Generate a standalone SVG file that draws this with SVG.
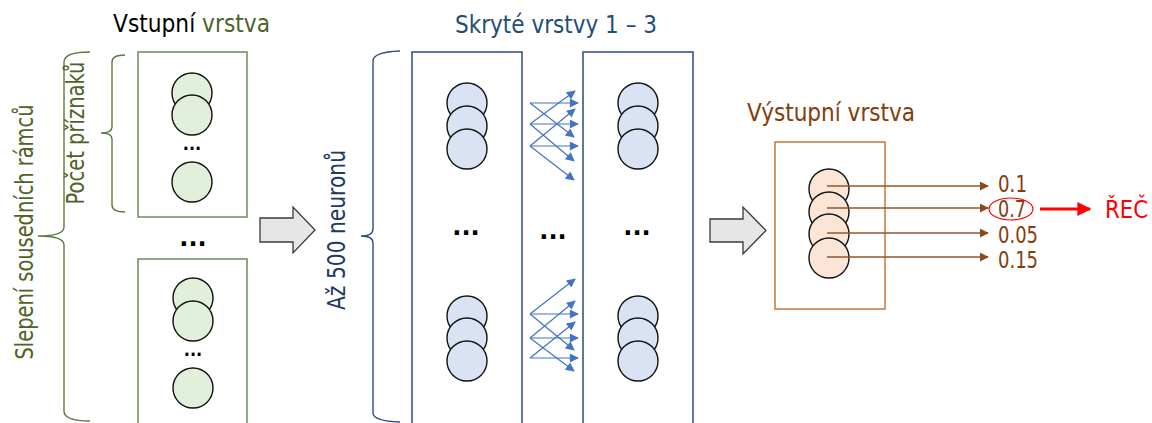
<svg xmlns="http://www.w3.org/2000/svg" width="1152" height="423" viewBox="0 0 1152 423">
<defs>
<style>
text{font-family:"DejaVu Sans Condensed","DejaVu Sans",sans-serif;}
.t{font-size:24px;}
.gin{fill:#e2efda;stroke:#111;stroke-width:1.4;}
.hid{fill:#dae3f3;stroke:#111;stroke-width:1.4;}
.out{fill:#fbe5d6;stroke:#111;stroke-width:1.4;}
.ibox{fill:#fff;stroke:#6d8c55;stroke-width:1.5;}
.hbox{fill:#fff;stroke:#2f4a82;stroke-width:1.5;}
.obox{fill:#fff;stroke:#c8773a;stroke-width:1.5;}
.gbrace{fill:none;stroke:#5b7a3c;stroke-width:1.4;}
.hbrace{fill:none;stroke:#2f4a82;stroke-width:1.4;}
.conn{stroke:#4472c4;stroke-width:1.2;fill:none;marker-end:url(#ab);}
.ol{stroke:#93562a;stroke-width:1.3;fill:none;marker-end:url(#abr);}
.blk{fill:#e7e6e6;stroke:#3a3a3a;stroke-width:1.3;}
.bd{font-size:24px;font-weight:bold;fill:#000;font-family:"DejaVu Sans",sans-serif;}
.sd{font-size:18px;font-weight:bold;fill:#000;}
.num{font-size:23px;fill:#843c0c;}
</style>
<marker id="ab" viewBox="0 0 10 10" refX="9" refY="5" markerWidth="10" markerHeight="9" markerUnits="userSpaceOnUse" orient="auto"><path d="M0,0 L10,5 L0,10 z" fill="#4472c4"/></marker>
<marker id="abr" viewBox="0 0 10 10" refX="9" refY="5" markerWidth="9" markerHeight="9" markerUnits="userSpaceOnUse" orient="auto"><path d="M0,0 L10,5 L0,10 z" fill="#8b4a1c"/></marker>
<marker id="ared" viewBox="0 0 10 10" refX="9" refY="5" markerWidth="17" markerHeight="14" markerUnits="userSpaceOnUse" orient="auto"><path d="M0,0 L10,5 L0,10 z" fill="#ff0000"/></marker>
</defs>
<rect width="1152" height="423" fill="#fff"/>

<g id="titles">
<text class="t" x="113" y="32" textLength="157" lengthAdjust="spacingAndGlyphs"><tspan fill="#000">Vstupní </tspan><tspan fill="#4f6228">vrstva</tspan></text>
<text class="t" x="455" y="33" textLength="202" lengthAdjust="spacingAndGlyphs" fill="#1f4e79">Skryté vrstvy 1 – 3</text>
<text class="t" x="747" y="121" textLength="168" lengthAdjust="spacingAndGlyphs" fill="#843c0c">Výstupní vrstva</text>
</g>

<g id="input-braces">
<path class="gbrace" d="M90,52 Q64,52 64,62 L64,227 Q64,236 38,236 Q64,236 64,245 L64,411 Q64,421 90,421"/>
<path class="gbrace" d="M125,55 Q112,55 112,62 L112,127 Q112,133 101,133 Q112,133 112,139 L112,205 Q112,212 125,212"/>
<text class="t" transform="translate(33,232) rotate(-90)" text-anchor="middle" textLength="255" lengthAdjust="spacingAndGlyphs" fill="#4f6228">Slepení sousedních rámců</text>
<text class="t" transform="translate(84,133) rotate(-90)" text-anchor="middle" textLength="143" lengthAdjust="spacingAndGlyphs" fill="#4f6228">Počet příznaků</text>
</g>

<g id="input-frame-1">
<rect class="ibox" x="138" y="52" width="109" height="165"/>
<circle class="gin" cx="192" cy="93" r="20"/>
<circle class="gin" cx="192" cy="115" r="20"/>
<text class="sd" x="192" y="150" text-anchor="middle">...</text>
<circle class="gin" cx="192" cy="182" r="20"/>
</g>
<text class="bd" x="193" y="246" text-anchor="middle">...</text>
<g id="input-frame-2">
<rect class="ibox" x="138" y="259" width="109" height="170"/>
<circle class="gin" cx="193" cy="298" r="20"/>
<circle class="gin" cx="193" cy="321" r="20"/>
<text class="sd" x="193" y="356" text-anchor="middle">...</text>
<circle class="gin" cx="193" cy="388" r="20"/>
</g>

<g id="arrow-1">
<path class="blk" d="M260,218 L293,218 L293,207 L315,230 L293,253 L293,242 L260,242 z"/>
</g>

<g id="hidden-brace">
<path class="hbrace" d="M400,51 Q373,52 373,61 L373,229 Q373,236 361,236 Q373,236 373,243 L373,413 Q373,421 400,422"/>
<text class="t" transform="translate(345,230) rotate(-90)" text-anchor="middle" textLength="160" lengthAdjust="spacingAndGlyphs" fill="#203864">Až 500 neuronů</text>
</g>

<g id="hidden-layer-1">
<rect class="hbox" x="412" y="52" width="110" height="380"/>
<circle class="hid" cx="467" cy="103" r="20"/>
<circle class="hid" cx="467" cy="126" r="20"/>
<circle class="hid" cx="467" cy="149" r="20"/>
<text class="bd" x="466" y="235" text-anchor="middle">...</text>
<circle class="hid" cx="467" cy="316" r="20"/>
<circle class="hid" cx="467" cy="338" r="20"/>
<circle class="hid" cx="467" cy="361" r="20"/>
</g>

<text class="bd" x="553" y="239" text-anchor="middle">...</text>

<g id="hidden-layer-2">
<rect class="hbox" x="583" y="52" width="110" height="380"/>
<circle class="hid" cx="638" cy="103" r="20"/>
<circle class="hid" cx="638" cy="126" r="20"/>
<circle class="hid" cx="638" cy="149" r="20"/>
<text class="bd" x="637" y="235" text-anchor="middle">...</text>
<circle class="hid" cx="638" cy="316" r="20"/>
<circle class="hid" cx="638" cy="338" r="20"/>
<circle class="hid" cx="638" cy="361" r="20"/>
</g>

<g id="connectors">
<line class="conn" x1="530" y1="103" x2="578" y2="103"/>
<line class="conn" x1="530" y1="103" x2="574" y2="137"/>
<line class="conn" x1="530" y1="124" x2="578" y2="124"/>
<line class="conn" x1="530" y1="124" x2="575" y2="91"/>
<line class="conn" x1="530" y1="124" x2="574" y2="161"/>
<line class="conn" x1="530" y1="146" x2="578" y2="146"/>
<line class="conn" x1="530" y1="146" x2="575" y2="109"/>
<line class="conn" x1="530" y1="146" x2="574" y2="180"/>

<line class="conn" x1="530" y1="314" x2="578" y2="314"/>
<line class="conn" x1="530" y1="314" x2="575" y2="279"/>
<line class="conn" x1="530" y1="314" x2="574" y2="350"/>
<line class="conn" x1="530" y1="338" x2="578" y2="338"/>
<line class="conn" x1="530" y1="338" x2="575" y2="301"/>
<line class="conn" x1="530" y1="338" x2="574" y2="371"/>
<line class="conn" x1="530" y1="358" x2="578" y2="358"/>
<line class="conn" x1="530" y1="358" x2="575" y2="322"/>
</g>

<g id="arrow-2">
<path class="blk" d="M710,219 L743,219 L743,207 L766,230.5 L743,254 L743,242 L710,242 z"/>
</g>

<g id="output-layer">
<rect class="obox" x="775" y="142" width="110" height="167"/>
<circle class="out" cx="829" cy="189" r="20"/>
<circle class="out" cx="829" cy="212" r="20"/>
<circle class="out" cx="829" cy="234" r="20"/>
<circle class="out" cx="829" cy="258" r="20"/>
</g>

<g id="output-connectors">
<line class="ol" x1="827" y1="186" x2="988" y2="186"/>
<line class="ol" x1="827" y1="208" x2="988" y2="208"/>
<line class="ol" x1="827" y1="233" x2="988" y2="233"/>
<line class="ol" x1="827" y1="257" x2="988" y2="257"/>
<line x1="1040" y1="209" x2="1090" y2="209" stroke="#ff0000" stroke-width="3" marker-end="url(#ared)"/>
</g>

<g id="outputs">
<text class="num" x="998" y="192" textLength="29" lengthAdjust="spacingAndGlyphs">0.1</text>
<text class="num" x="998" y="217" textLength="28" lengthAdjust="spacingAndGlyphs">0.7</text>
<ellipse cx="1011" cy="209" rx="22" ry="11" fill="none" stroke="#ff0000" stroke-width="1.2"/>
<text class="num" x="998" y="243" textLength="40" lengthAdjust="spacingAndGlyphs">0.05</text>
<text class="num" x="998" y="268" textLength="40" lengthAdjust="spacingAndGlyphs">0.15</text>
<text class="t" x="1105" y="218" textLength="43" lengthAdjust="spacingAndGlyphs" fill="#ff0000">ŘEČ</text>
</g>
</svg>
